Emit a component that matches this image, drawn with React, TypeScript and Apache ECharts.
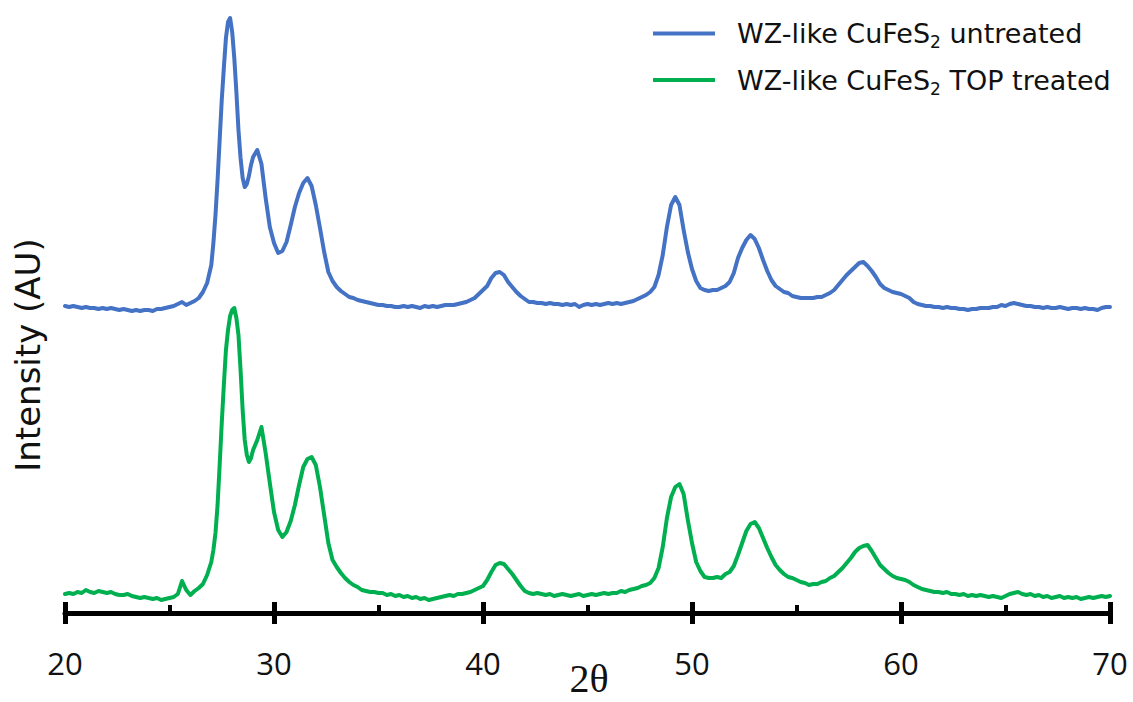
import { useEffect, useRef } from "react";
import * as echarts from "echarts";

// Diffraction angle (2θ, degrees) shared by both patterns
const twoTheta = [
  20.0, 20.2, 20.4, 20.6, 20.8,
  21.0, 21.2, 21.4, 21.6, 21.8,
  22.0, 22.2, 22.4, 22.6, 22.8,
  23.0, 23.2, 23.4, 23.6, 23.8,
  24.0, 24.2, 24.4, 24.6, 24.8,
  25.0, 25.2, 25.4, 25.6, 25.8,
  26.0, 26.2, 26.4, 26.6, 26.8,
  27.0, 27.1, 27.2, 27.3, 27.4, 27.5, 27.6, 27.7, 27.8, 27.9,
  28.0, 28.1, 28.2, 28.3, 28.4, 28.5, 28.6, 28.7, 28.8, 28.9,
  29.0, 29.2, 29.4, 29.6, 29.8,
  30.0, 30.2, 30.4, 30.6, 30.8,
  31.0, 31.2, 31.4, 31.6, 31.8,
  32.0, 32.2, 32.4, 32.6, 32.8,
  33.0, 33.2, 33.4, 33.6, 33.8,
  34.0, 34.2, 34.4, 34.6, 34.8,
  35.0, 35.2, 35.4, 35.6, 35.8,
  36.0, 36.2, 36.4, 36.6, 36.8,
  37.0, 37.2, 37.4, 37.6, 37.8,
  38.0, 38.2, 38.4, 38.6, 38.8,
  39.0, 39.2, 39.4, 39.6, 39.8,
  40.0, 40.2, 40.4, 40.6, 40.8,
  41.0, 41.2, 41.4, 41.6, 41.8,
  42.0, 42.2, 42.4, 42.6, 42.8,
  43.0, 43.2, 43.4, 43.6, 43.8,
  44.0, 44.2, 44.4, 44.6, 44.8,
  45.0, 45.2, 45.4, 45.6, 45.8,
  46.0, 46.2, 46.4, 46.6, 46.8,
  47.0, 47.2, 47.4, 47.6, 47.8,
  48.0, 48.2, 48.4, 48.6, 48.8,
  49.0, 49.2, 49.4, 49.6, 49.8,
  50.0, 50.2, 50.4, 50.6, 50.8,
  51.0, 51.2, 51.4, 51.6, 51.8,
  52.0, 52.2, 52.4, 52.6, 52.8,
  53.0, 53.2, 53.4, 53.6, 53.8,
  54.0, 54.2, 54.4, 54.6, 54.8,
  55.0, 55.2, 55.4, 55.6, 55.8,
  56.0, 56.2, 56.4, 56.6, 56.8,
  57.0, 57.2, 57.4, 57.6, 57.8,
  58.0, 58.2, 58.4, 58.6, 58.8,
  59.0, 59.2, 59.4, 59.6, 59.8,
  60.0, 60.2, 60.4, 60.6, 60.8,
  61.0, 61.2, 61.4, 61.6, 61.8,
  62.0, 62.2, 62.4, 62.6, 62.8,
  63.0, 63.2, 63.4, 63.6, 63.8,
  64.0, 64.2, 64.4, 64.6, 64.8,
  65.0, 65.2, 65.4, 65.6, 65.8,
  66.0, 66.2, 66.4, 66.6, 66.8,
  67.0, 67.2, 67.4, 67.6, 67.8,
  68.0, 68.2, 68.4, 68.6, 68.8,
  69.0, 69.2, 69.4, 69.6, 69.8,
  70.0,
];

// WZ-like CuFeS2, untreated (AU, before vertical offset)
const untreated = [
  17, 16, 17, 16, 15,
  16, 15, 15, 14, 15,
  14, 15, 14, 13, 14,
  13, 12, 13, 12, 13,
  13, 12, 14, 14, 15,
  16, 17, 19, 21, 18,
  20, 22, 25, 31, 40,
  58, 80, 108, 143, 183, 223, 255, 285, 301, 305,
  291, 265, 231, 193, 165, 145, 136, 139, 147, 158,
  166, 173, 159, 125, 96,
  80, 70, 72, 81, 98,
  116, 130, 140, 145, 137,
  118, 95, 71, 51, 42,
  36, 32, 29, 26, 25,
  23, 22, 21, 20, 19,
  18, 18, 17, 17, 16,
  16, 17, 16, 17, 16,
  15, 17, 16, 17, 16,
  17, 18, 18, 18, 19,
  20, 21, 23, 25, 29,
  33, 37, 45, 50, 51,
  48, 41, 36, 31, 27,
  24, 21, 21, 20, 20,
  19, 20, 19, 19, 18,
  19, 18, 19, 16, 18,
  19, 18, 19, 18, 19,
  20, 19, 20, 19, 20,
  21, 22, 24, 26, 28,
  31, 36, 48, 68, 96,
  118, 126, 118, 93, 71,
  54, 42, 35, 33, 32,
  33, 33, 35, 37, 41,
  50, 65, 75, 83, 88,
  84, 75, 63, 52, 43,
  37, 34, 31, 30, 27,
  26, 25, 25, 25, 25,
  26, 26, 28, 30, 33,
  38, 43, 48, 52, 56,
  60, 61, 57, 52, 46,
  39, 35, 33, 31, 30,
  29, 27, 25, 21, 19,
  18, 17, 17, 16, 16,
  15, 16, 15, 15, 14,
  14, 13, 14, 14, 15,
  15, 15, 16, 16, 18,
  17, 19, 20, 19, 18,
  17, 17, 16, 16, 15,
  16, 15, 15, 16, 15,
  14, 15, 15, 14, 15,
  14, 14, 13, 15, 16,
  16,
];

// WZ-like CuFeS2 after TOP treatment (AU)
const topTreated = [
  19, 20, 19, 21, 20,
  23, 21, 20, 22, 21,
  20, 21, 19, 18, 18,
  19, 17, 16, 15, 16,
  15, 14, 15, 13, 14,
  15, 16, 19, 32, 23,
  18, 22, 25, 29, 38,
  51, 63, 80, 108, 148, 190, 228, 263, 283, 297,
  303, 305, 295, 278, 243, 203, 173, 158, 151, 155,
  163, 173, 186, 160, 130,
  101, 83, 76, 81, 92,
  108, 128, 146, 154, 156,
  148, 126, 98, 70, 53,
  46, 40, 35, 31, 28,
  26, 23, 22, 21, 21,
  20, 20, 18, 19, 17,
  18, 16, 17, 15, 16,
  14, 15, 13, 14, 15,
  16, 17, 18, 17, 19,
  19, 20, 21, 23, 25,
  27, 33, 41, 48, 50,
  49, 44, 39, 33, 27,
  22, 20, 19, 20, 19,
  18, 19, 17, 18, 19,
  18, 17, 18, 19, 17,
  18, 19, 18, 19, 20,
  19, 20, 20, 22, 21,
  23, 24, 25, 27, 28,
  30, 35, 45, 66, 95,
  116, 126, 129, 119, 93,
  70, 51, 42, 36, 35,
  35, 36, 35, 39, 41,
  47, 58, 70, 82, 89,
  91, 85, 75, 65, 56,
  48, 43, 39, 36, 35,
  33, 31, 30, 28, 29,
  29, 31, 32, 35, 37,
  41, 45, 50, 55, 61,
  65, 67, 68, 62, 55,
  48, 44, 40, 37, 35,
  34, 33, 31, 28, 26,
  24, 23, 22, 21, 21,
  20, 21, 19, 19, 18,
  19, 17, 18, 17, 18,
  17, 16, 17, 16, 15,
  17, 19, 20, 21, 19,
  18, 19, 17, 18, 16,
  17, 15, 16, 17, 15,
  16, 15, 16, 14, 15,
  16, 15, 16, 17, 16,
  17,
];

// Vertical shift that stacks the untreated pattern above the treated one
const UNTREATED_OFFSET = 290;

const seriesNames = ["WZ-like CuFeS2 untreated", "WZ-like CuFeS2 TOP treated"];
const legendSuffix = ["untreated", "TOP treated"];
const seriesColors = ["#4472C4", "#00B050"];

const TEXT_COLOR = "#111111";

export default function App() {
  const ref = useRef<HTMLDivElement>(null);

  useEffect(() => {
    if (!ref.current) return;
    const chart = echarts.init(ref.current, undefined, { renderer: "svg" });

    const untreatedData = twoTheta.map((t, i) => [t, untreated[i] + UNTREATED_OFFSET]);
    const treatedData = twoTheta.map((t, i) => [t, topTreated[i]]);

    chart.setOption({
      animation: false,
      backgroundColor: "#ffffff",
      grid: {
        left: 65,
        right: 23,
        top: 13,
        bottom: 89,
        containLabel: false,
        outerBoundsMode: "none",
      },
      legend: {
        orient: "vertical",
        left: 653,
        top: 20,
        padding: 0,
        itemWidth: 62,
        itemHeight: 4,
        itemGap: 16,
        icon: "rect",
        data: seriesNames,
        formatter: (name: string) => {
          const idx = seriesNames.indexOf(name);
          return `{g| }{a|WZ-like CuFeS}{s|2}{a| ${legendSuffix[idx]}}`;
        },
        textStyle: {
          color: TEXT_COLOR,
          fontFamily: "DejaVu Sans",
          fontSize: 27,
          rich: {
            g: { width: 17, fontSize: 27, lineHeight: 34 },
            a: { color: TEXT_COLOR, fontFamily: "DejaVu Sans", fontSize: 27, lineHeight: 34 },
            s: {
              color: TEXT_COLOR,
              fontFamily: "DejaVu Sans",
              fontSize: 17,
              lineHeight: 22,
              verticalAlign: "bottom",
            },
          },
        },
      },
      xAxis: [
        {
          type: "value",
          position: "bottom",
          min: 20,
          max: 70,
          interval: 10,
          axisLine: { show: true, lineStyle: { color: "#000", width: 5 } },
          axisTick: { show: true, inside: false, length: 11, lineStyle: { color: "#000", width: 5 } },
          axisLabel: {
            margin: 34,
            fontFamily: "Open Sans",
            fontSize: 31,
            color: TEXT_COLOR,
          },
          splitLine: { show: false },
        },
        {
          type: "value",
          position: "bottom",
          min: 20,
          max: 70,
          interval: 10,
          axisLine: { show: false },
          axisTick: { show: true, inside: true, length: 11, lineStyle: { color: "#000", width: 5 } },
          minorTick: { show: true, splitNumber: 2, length: 8, lineStyle: { color: "#000", width: 4 } },
          axisLabel: { show: false },
          splitLine: { show: false },
        },
      ],
      yAxis: {
        type: "value",
        min: 0,
        max: 600,
        show: false,
        splitLine: { show: false },
      },
      graphic: [
        {
          type: "text",
          x: 28,
          y: 355,
          rotation: Math.PI / 2,
          style: {
            text: "Intensity (AU)",
            fontFamily: "DejaVu Sans",
            fontSize: 34,
            fill: TEXT_COLOR,
            align: "center",
            verticalAlign: "middle",
          },
        },
        {
          type: "text",
          x: 589,
          y: 678,
          style: {
            text: "2θ",
            fontFamily: "Liberation Serif",
            fontSize: 40,
            lineHeight: 30,
            fill: TEXT_COLOR,
            align: "center",
            verticalAlign: "middle",
          },
        },
      ],
      series: [
        {
          name: seriesNames[0],
          type: "line",
          xAxisIndex: 0,
          data: untreatedData,
          showSymbol: false,
          symbol: "none",
          color: seriesColors[0],
          lineStyle: { width: 4, color: seriesColors[0], cap: "round", join: "round" },
        },
        {
          name: seriesNames[1],
          type: "line",
          xAxisIndex: 0,
          data: treatedData,
          showSymbol: false,
          symbol: "none",
          color: seriesColors[1],
          lineStyle: { width: 4, color: seriesColors[1], cap: "round", join: "round" },
        },
      ],
    });

    return () => chart.dispose();
  }, []);

  return (
    <div
      ref={ref}
      style={{ position: "absolute", left: 0, top: 0, width: 1133, height: 702 }}
    />
  );
}
